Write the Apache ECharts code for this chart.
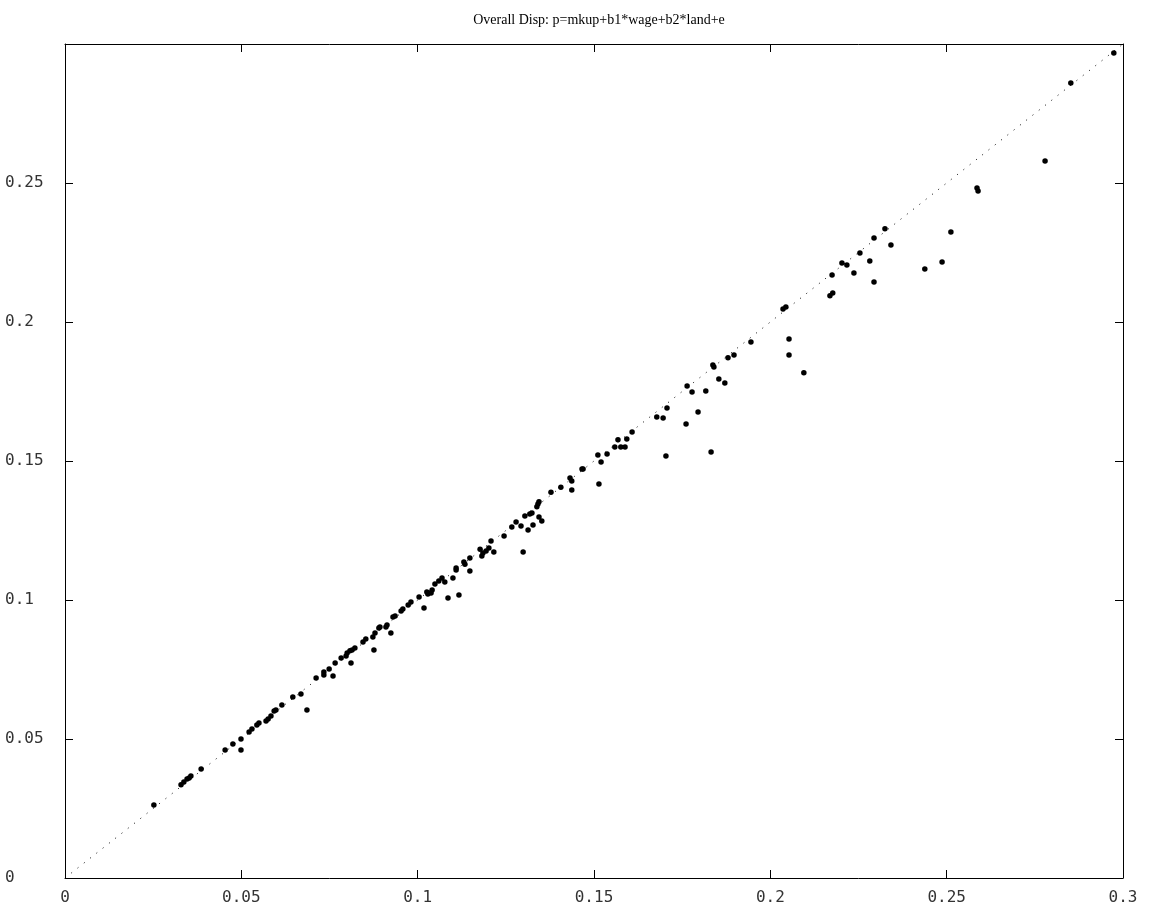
<!DOCTYPE html>
<html>
<head>
<meta charset="utf-8">
<title>Overall Disp</title>
<script src="https://cdn.jsdelivr.net/npm/echarts@6/dist/echarts.min.js"></script>
<style>
  html, body { margin: 0; padding: 0; background: #fff; }
  #chart { width: 1154px; height: 913px; }
</style>
</head>
<body>
<div id="chart"></div>
<script>
// Observed vs. fitted dispersion values (x, y pairs)
const xVals = [
  0.0252, 0.0329, 0.0337, 0.0346, 0.0352, 0.0357, 0.0386, 0.0454, 0.0476, 0.0499,
  0.0499, 0.0522, 0.0530, 0.0544, 0.0550, 0.0570, 0.0576, 0.0584, 0.0593, 0.0598,
  0.0615, 0.0646, 0.0669, 0.0686, 0.0712, 0.0734, 0.0734, 0.0749, 0.0760, 0.0766,
  0.0783, 0.0797, 0.0800, 0.0808, 0.0814, 0.0822, 0.0811, 0.0845, 0.0853, 0.0876,
  0.0873, 0.0879, 0.0890, 0.0893, 0.0910, 0.0913, 0.0924, 0.0930, 0.0936, 0.0953,
  0.0958, 0.0973, 0.0981, 0.1004, 0.1018, 0.1026, 0.1029, 0.1038, 0.1041, 0.1049,
  0.1060, 0.1069, 0.1077, 0.1086, 0.1100, 0.1109, 0.1109, 0.1117, 0.1131, 0.1134,
  0.1148, 0.1148, 0.1177, 0.1182, 0.1185, 0.1194, 0.1202, 0.1208, 0.1216, 0.1245,
  0.1267, 0.1279, 0.1293, 0.1304, 0.1299, 0.1313, 0.1318, 0.1324, 0.1327, 0.1338,
  0.1341, 0.1344, 0.1344, 0.1352, 0.1378, 0.1406, 0.1432, 0.1437, 0.1437, 0.1466,
  0.1469, 0.1511, 0.1514, 0.1520, 0.1537, 0.1559, 0.1568, 0.1576, 0.1588, 0.1593,
  0.1608, 0.1678, 0.1696, 0.1704, 0.1707, 0.1761, 0.1764, 0.1778, 0.1795, 0.1817,
  0.1832, 0.1837, 0.1840, 0.1854, 0.1871, 0.1880, 0.1897, 0.1945, 0.2036, 0.2044,
  0.2053, 0.2053, 0.2095, 0.2169, 0.2177, 0.2175, 0.2203, 0.2217, 0.2237, 0.2254,
  0.2282, 0.2294, 0.2294, 0.2325, 0.2342, 0.2438, 0.2487, 0.2512, 0.2586, 0.2589,
  0.2779, 0.2852, 0.2974
];
const yVals = [
  0.0263, 0.0335, 0.0345, 0.0356, 0.0360, 0.0367, 0.0392, 0.0460, 0.0482, 0.0500,
  0.0460, 0.0525, 0.0536, 0.0550, 0.0558, 0.0565, 0.0572, 0.0583, 0.0601, 0.0604,
  0.0622, 0.0651, 0.0662, 0.0604, 0.0719, 0.0741, 0.0730, 0.0752, 0.0727, 0.0773,
  0.0791, 0.0799, 0.0809, 0.0817, 0.0820, 0.0827, 0.0773, 0.0849, 0.0860, 0.0820,
  0.0867, 0.0881, 0.0899, 0.0903, 0.0903, 0.0910, 0.0881, 0.0939, 0.0942, 0.0960,
  0.0968, 0.0982, 0.0993, 0.1011, 0.0971, 0.1029, 0.1022, 0.1025, 0.1036, 0.1058,
  0.1068, 0.1079, 0.1065, 0.1007, 0.1079, 0.1115, 0.1108, 0.1018, 0.1137, 0.1129,
  0.1151, 0.1104, 0.1183, 0.1158, 0.1169, 0.1176, 0.1187, 0.1212, 0.1173, 0.1230,
  0.1263, 0.1281, 0.1266, 0.1302, 0.1173, 0.1252, 0.1309, 0.1313, 0.1270, 0.1335,
  0.1345, 0.1353, 0.1299, 0.1284, 0.1388, 0.1406, 0.1439, 0.1428, 0.1396, 0.1471,
  0.1471, 0.1522, 0.1417, 0.1496, 0.1525, 0.1550, 0.1576, 0.1550, 0.1550, 0.1579,
  0.1604, 0.1658, 0.1655, 0.1518, 0.1691, 0.1633, 0.1770, 0.1748, 0.1676, 0.1752,
  0.1532, 0.1845, 0.1838, 0.1795, 0.1781, 0.1871, 0.1881, 0.1928, 0.2047, 0.2054,
  0.1939, 0.1881, 0.1817, 0.2094, 0.2104, 0.2169, 0.2212, 0.2205, 0.2176, 0.2248,
  0.2219, 0.2302, 0.2144, 0.2335, 0.2277, 0.2191, 0.2216, 0.2324, 0.2482, 0.2471,
  0.2579, 0.2860, 0.2968
];
// 45-degree reference line endpoints
const refLine = [0, 0.3];
const tickStep = 0.05;
const chartTitle = 'Overall Disp: p=mkup+b1*wage+b2*land+e';

const points = xVals.map((x, i) => [x, yVals[i]]);

const labelFont = {
  fontFamily: 'DejaVu Sans Mono',
  fontSize: 16,
  color: '#333'
};

function boxAxis(extra) {
  return Object.assign({
    type: 'value',
    min: 0,
    max: 0.3,
    interval: tickStep,
    axisLine: { show: true, onZero: false, lineStyle: { color: '#000', width: 1 } },
    axisTick: { show: true, inside: true, length: 8, lineStyle: { color: '#000', width: 1 } },
    splitLine: { show: false }
  }, extra);
}

const chart = echarts.init(document.getElementById('chart'), null, { renderer: 'canvas' });
chart.setOption({
  animation: false,
  backgroundColor: '#fff',
  title: {
    text: chartTitle,
    left: 594,
    textAlign: 'center',
    top: 8,
    textStyle: {
      fontFamily: 'Liberation Serif',
      fontWeight: 'normal',
      fontSize: 14,
      color: '#000'
    }
  },
  grid: { left: 65, right: 31, top: 44, bottom: 35, containLabel: false },
  xAxis: [
    boxAxis({
      position: 'bottom',
      axisLabel: Object.assign({ show: true, margin: 12, formatter: v => String(+v.toFixed(2)) }, labelFont)
    }),
    boxAxis({ position: 'top', axisLabel: { show: false } })
  ],
  yAxis: [
    boxAxis({
      position: 'left',
      axisLabel: Object.assign({
        show: true, margin: 60, align: 'left', showMaxLabel: false,
        formatter: v => String(+v.toFixed(2))
      }, labelFont)
    }),
    boxAxis({ position: 'right', axisLabel: { show: false } })
  ],
  series: [
    {
      type: 'line',
      data: [[refLine[0], refLine[0]], [refLine[1], refLine[1]]],
      showSymbol: false,
      symbol: 'none',
      silent: true,
      lineStyle: { color: '#000', width: 1, type: [1, 7] },
      z: 1
    },
    {
      type: 'scatter',
      data: points,
      symbol: 'circle',
      symbolSize: 5.5,
      itemStyle: { color: '#000', opacity: 1 },
      z: 2
    }
  ]
});
</script>
</body>
</html>
